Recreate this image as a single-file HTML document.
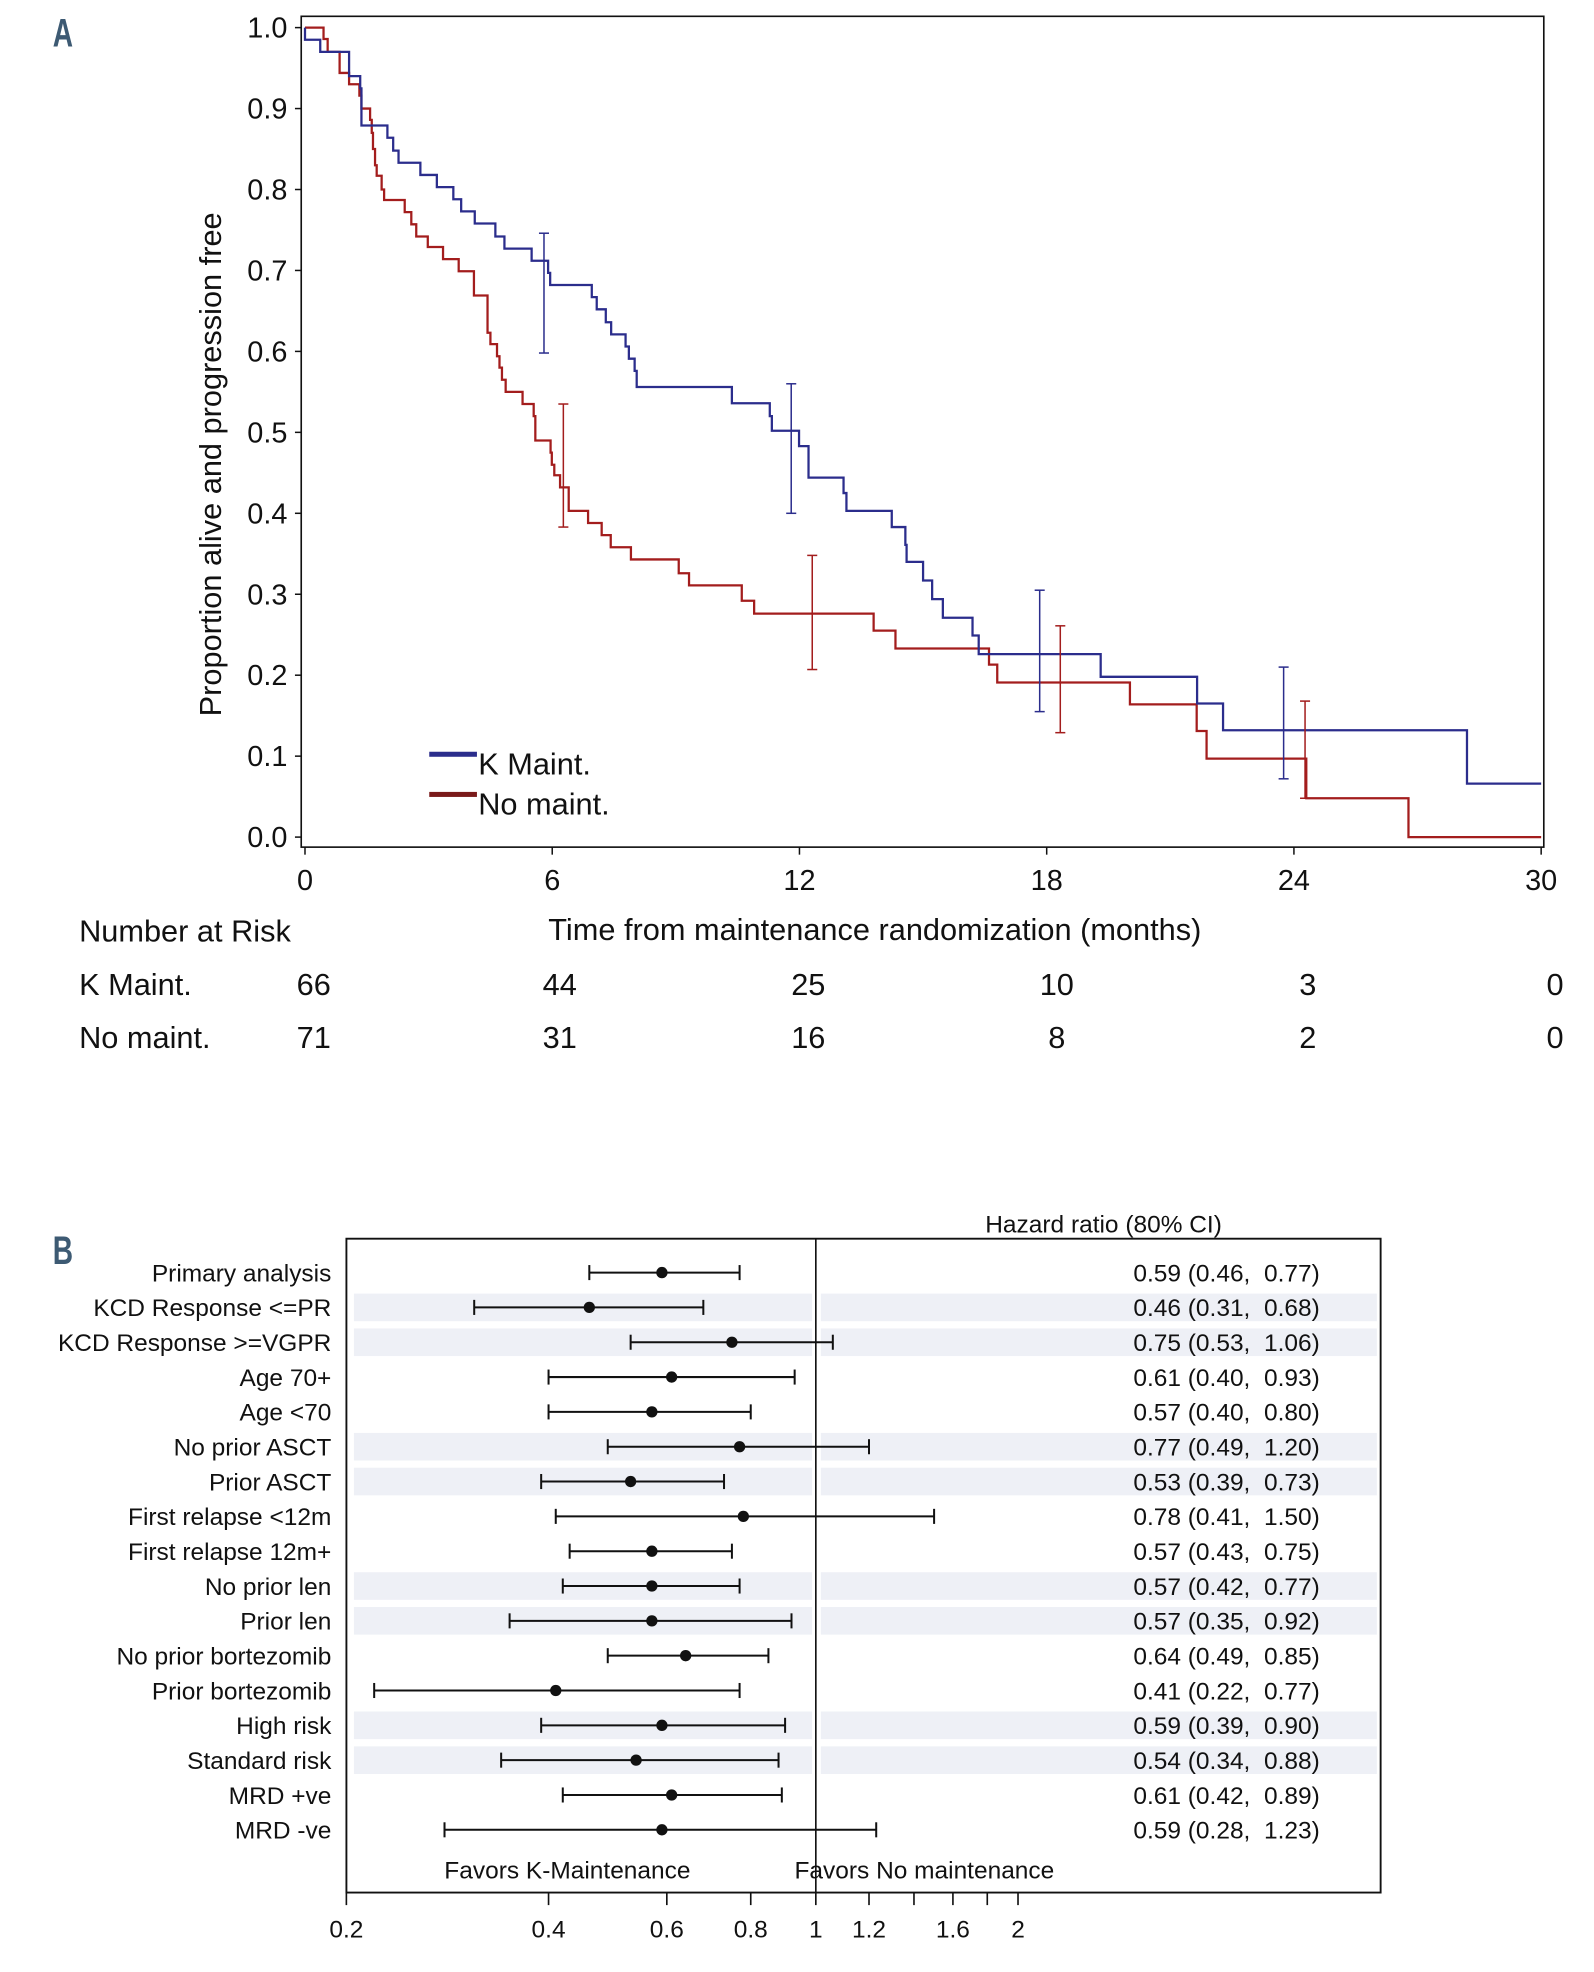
<!DOCTYPE html>
<html><head><meta charset="utf-8"><style>
html,body{margin:0;padding:0;background:#fff;}
svg{display:block;font-family:"Liberation Sans",sans-serif;}
</style></head><body>
<svg id="fig" width="1594" height="1972" viewBox="0 0 1270 1571.3" preserveAspectRatio="none" xmlns="http://www.w3.org/2000/svg">
<text x="42" y="37" font-size="32" font-weight="bold" fill="#3d5a73" transform="translate(42 0) scale(0.7 1) translate(-42 0)">A</text>
<text x="42" y="1007" font-size="32" font-weight="bold" fill="#3d5a73" transform="translate(42 0) scale(0.7 1) translate(-42 0)">B</text>
<g id="km"></g>
<g id="forest"></g>
</svg>
<script>
// ---- Panel A data ----
const kmXTicks = [0, 6, 12, 18, 24, 30];
const kmYTicks = [0.0, 0.1, 0.2, 0.3, 0.4, 0.5, 0.6, 0.7, 0.8, 0.9, 1.0];
const blueTimes = [0,0.37,1.07,1.34,1.37,2.0,2.14,2.27,2.8,3.2,3.6,3.79,4.12,4.62,4.84,5.5,5.9,5.95,6.96,7.08,7.3,7.43,7.78,7.86,8.0,8.05,10.36,11.28,11.33,11.99,12.22,13.07,13.14,14.24,14.57,14.6,15.0,15.22,15.48,16.2,16.35,19.31,21.65,22.28,28.2];
const blueSurv = [0.985,0.97,0.94,0.925,0.879,0.864,0.848,0.833,0.818,0.803,0.788,0.773,0.758,0.742,0.727,0.712,0.697,0.682,0.667,0.652,0.636,0.621,0.606,0.591,0.576,0.556,0.536,0.52,0.502,0.483,0.444,0.425,0.403,0.383,0.361,0.34,0.317,0.294,0.271,0.249,0.226,0.198,0.165,0.132,0.066];
const redTimes = [0.45,0.55,0.84,1.07,1.32,1.37,1.58,1.62,1.65,1.7,1.74,1.86,1.92,2.42,2.58,2.7,2.98,3.35,3.73,4.1,4.43,4.5,4.66,4.72,4.78,4.87,5.28,5.55,5.59,5.96,5.99,6.05,6.19,6.4,6.87,7.2,7.42,7.91,9.07,9.32,10.6,10.9,13.8,14.33,16.6,16.8,20.02,21.64,21.88,24.3,26.78];
const redSurv = [0.986,0.97,0.944,0.93,0.916,0.90,0.886,0.87,0.85,0.83,0.817,0.80,0.787,0.772,0.757,0.742,0.729,0.714,0.699,0.669,0.623,0.609,0.594,0.58,0.565,0.55,0.535,0.52,0.49,0.475,0.46,0.447,0.432,0.403,0.388,0.373,0.358,0.343,0.326,0.311,0.292,0.276,0.255,0.233,0.213,0.191,0.164,0.131,0.097,0.048,0.0];
const blueErrT = [5.8, 11.8, 17.83, 23.75];
const blueErrLo = [0.598, 0.40, 0.155, 0.072];
const blueErrHi = [0.746, 0.56, 0.305, 0.210];
const redErrT = [6.27, 12.31, 18.33, 24.27];
const redErrLo = [0.383, 0.207, 0.129, 0.048];
const redErrHi = [0.535, 0.348, 0.261, 0.168];
const riskK = [66, 44, 25, 10, 3, 0];
const riskN = [71, 31, 16, 8, 2, 0];

// ---- Panel B data ----
const fpLabels = ["Primary analysis","KCD Response <=PR","KCD Response >=VGPR","Age 70+","Age <70","No prior ASCT","Prior ASCT","First relapse <12m","First relapse 12m+","No prior len","Prior len","No prior bortezomib","Prior bortezomib","High risk","Standard risk","MRD +ve","MRD -ve"];
const fpHR = [0.59,0.46,0.75,0.61,0.57,0.77,0.53,0.78,0.57,0.57,0.57,0.64,0.41,0.59,0.54,0.61,0.59];
const fpLo = [0.46,0.31,0.53,0.40,0.40,0.49,0.39,0.41,0.43,0.42,0.35,0.49,0.22,0.39,0.34,0.42,0.28];
const fpHi = [0.77,0.68,1.06,0.93,0.80,1.20,0.73,1.50,0.75,0.77,0.92,0.85,0.77,0.90,0.88,0.89,1.23];
const fpShaded = [1,2,5,6,9,10,13,14];
const fpTicks = [0.2,0.4,0.6,0.8,1,1.2,1.4,1.6,1.8,2];
const fpTickLabels = ["0.2","0.4","0.6","0.8","1","1.2","","1.6","","2"];

const NS = "http://www.w3.org/2000/svg";
function mk(parent, tag, attrs, text) {
  const e = document.createElementNS(NS, tag);
  for (const k in attrs) e.setAttribute(k, attrs[k]);
  if (text !== undefined) e.textContent = text;
  parent.appendChild(e);
  return e;
}
const BLUE = "#2b2d8c", RED = "#a31d1d";
const FA = 24.5, FT = 23, FB = 19.5;

// ---------- Panel A ----------
const km = document.getElementById("km");
const xS = t => 243 + t * 32.83;
const yS = v => 667 - v * 645;
let el;
el = mk(km, "rect", {x:240, y:13, width:990, height:662, fill:"none", stroke:"#111", "stroke-width":1.3});


kmYTicks.forEach(v => {
  el = mk(km, "line", {x1:235, x2:240, y1:yS(v), y2:yS(v), stroke:"#111", "stroke-width":1.2});
  
  
  el = mk(km, "text", {x:229, y:yS(v)+8, "font-size":FT, "text-anchor":"end", fill:"#111"}, v.toFixed(1));
  
  
});
kmXTicks.forEach(t => {
  el = mk(km, "line", {x1:xS(t), x2:xS(t), y1:675, y2:681, stroke:"#111", "stroke-width":1.2});
  
  
  el = mk(km, "text", {x:xS(t), y:709, "font-size":FT, "text-anchor":"middle", fill:"#111"}, String(t));
  
  
});
el = mk(km, "text", {x:0, y:0, "font-size":FA, "text-anchor":"middle", fill:"#111", transform:"translate(176 370) rotate(-90)"}, "Proportion alive and progression free");


el = mk(km, "text", {x:697, y:749, "font-size":FA, "text-anchor":"middle", fill:"#111"}, "Time from maintenance randomization (months)");



function stepPath(times, surv) {
  let d = "M" + xS(0) + "," + yS(1);
  let prev = 1;
  for (let i = 0; i < times.length; i++) {
    d += " L" + xS(times[i]) + "," + yS(prev) + " L" + xS(times[i]) + "," + yS(surv[i]);
    prev = surv[i];
  }
  d += " L" + xS(30) + "," + yS(prev);
  return d;
}
el = mk(km, "path", {d:stepPath(redTimes, redSurv), fill:"none", stroke:RED, "stroke-width":1.8});


el = mk(km, "path", {d:stepPath(blueTimes, blueSurv), fill:"none", stroke:BLUE, "stroke-width":1.8});



function errBar(t, lo, hi, color, name) {
  const g = mk(km, "g", {stroke:color, "stroke-width":1.2, fill:"none"});
  
  
  mk(g, "line", {x1:xS(t), x2:xS(t), y1:yS(lo), y2:yS(hi)});
  mk(g, "line", {x1:xS(t)-4, x2:xS(t)+4, y1:yS(lo), y2:yS(lo)});
  mk(g, "line", {x1:xS(t)-4, x2:xS(t)+4, y1:yS(hi), y2:yS(hi)});
}
blueErrT.forEach((t, i) => errBar(t, blueErrLo[i], blueErrHi[i], BLUE, "k-maint-ci-bar"));
redErrT.forEach((t, i) => errBar(t, redErrLo[i], redErrHi[i], RED, "no-maint-ci-bar"));

el = mk(km, "rect", {x:342, y:599, width:38, height:4, fill:BLUE});


el = mk(km, "text", {x:381, y:617, "font-size":FA, fill:"#111"}, "K Maint.");


el = mk(km, "rect", {x:342, y:631, width:38, height:4, fill:"#7a1a1a"});


el = mk(km, "text", {x:381, y:649, "font-size":FA, fill:"#111"}, "No maint.");



el = mk(km, "text", {x:63, y:750, "font-size":FA, fill:"#111"}, "Number at Risk");


el = mk(km, "text", {x:63, y:793, "font-size":FA, fill:"#111"}, "K Maint.");


el = mk(km, "text", {x:63, y:835, "font-size":FA, fill:"#111"}, "No maint.");


const riskX = [250, 446, 644, 842, 1042, 1239];
riskK.forEach((n, i) => {
  el = mk(km, "text", {x:riskX[i], y:793, "font-size":FA, "text-anchor":"middle", fill:"#111"}, String(n));
  
  
});
riskN.forEach((n, i) => {
  el = mk(km, "text", {x:riskX[i], y:835, "font-size":FA, "text-anchor":"middle", fill:"#111"}, String(n));
  
  
});

// ---------- Panel B ----------
const fp = document.getElementById("forest");
const hx = v => 650 + Math.log(v) * 232.4;
const ry = i => 1014 + i * 27.75;
fpShaded.forEach(i => {
  el = mk(fp, "rect", {x:282, y:ry(i)-11, width:365, height:22, fill:"#eef0f6"});
  
  
  el = mk(fp, "rect", {x:654, y:ry(i)-11, width:443, height:22, fill:"#eef0f6"});
  
  
});
el = mk(fp, "rect", {x:276, y:987, width:824, height:521, fill:"none", stroke:"#111", "stroke-width":1.5});


el = mk(fp, "line", {x1:hx(1), x2:hx(1), y1:987, y2:1508, stroke:"#111", "stroke-width":1.3});


el = mk(fp, "text", {x:785, y:982, "font-size":FB, fill:"#111"}, "Hazard ratio (80% CI)");


fpLabels.forEach((lab, i) => {
  const y = ry(i);
  el = mk(fp, "text", {x:264, y:y+7, "font-size":FB, "text-anchor":"end", fill:"#111"}, lab);
  
  
  const g = mk(fp, "g", {stroke:"#111", "stroke-width":1.6});
  
  
  mk(g, "line", {x1:hx(fpLo[i]), x2:hx(fpHi[i]), y1:y, y2:y});
  mk(g, "line", {x1:hx(fpLo[i]), x2:hx(fpLo[i]), y1:y-6, y2:y+6});
  mk(g, "line", {x1:hx(fpHi[i]), x2:hx(fpHi[i]), y1:y-6, y2:y+6});
  el = mk(fp, "circle", {cx:hx(fpHR[i]), cy:y, r:4.5, fill:"#111"});
  
  
  el = mk(fp, "text", {x:903, y:y+7, "font-size":FB, fill:"#111"}, fpHR[i].toFixed(2) + " (" + fpLo[i].toFixed(2) + ",\u00a0\u00a0" + fpHi[i].toFixed(2) + ")");
  
  
});
el = mk(fp, "text", {x:354, y:1497, "font-size":FB, fill:"#111"}, "Favors K-Maintenance");


el = mk(fp, "text", {x:633, y:1497, "font-size":FB, fill:"#111"}, "Favors No maintenance");


fpTicks.forEach((v, i) => {
  el = mk(fp, "line", {x1:hx(v), x2:hx(v), y1:1508, y2:1518, stroke:"#111", "stroke-width":1.3});
  
  
  if (fpTickLabels[i]) {
    el = mk(fp, "text", {x:hx(v), y:1544, "font-size":FB, "text-anchor":"middle", fill:"#111"}, fpTickLabels[i]);
    
    
  }
});
</script>
</body></html>
